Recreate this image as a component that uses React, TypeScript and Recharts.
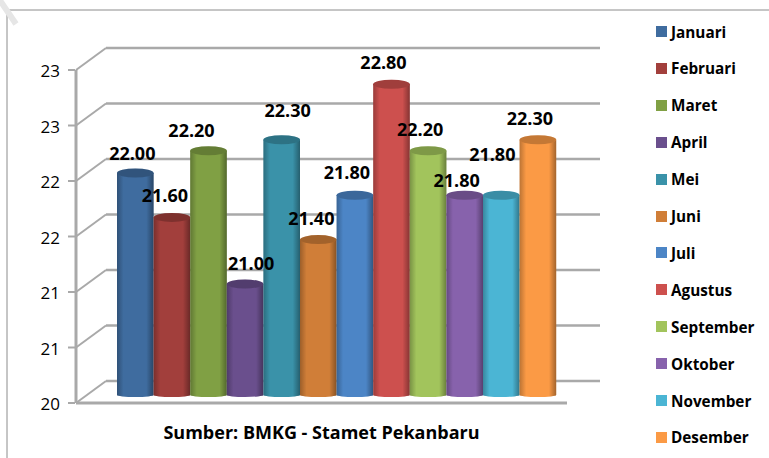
import React from "react";
import { BarChart, Bar, XAxis, YAxis, CartesianGrid, Legend, LabelList, Customized } from "recharts";

const months = ["Januari", "Februari", "Maret", "April", "Mei", "Juni", "Juli", "Agustus", "September", "Oktober", "November", "Desember"];
const values = [22.0, 21.6, 22.2, 21.0, 22.3, 21.4, 21.8, 22.8, 22.2, 21.8, 21.8, 22.3];
const yTicks = [20, 20.5, 21, 21.5, 22, 22.5, 23];
const sourceLabel = "Sumber: BMKG - Stamet Pekanbaru";
const colors = ["#3f6c9f", "#a23f3c", "#80a044", "#6a4f8d", "#3a92a9", "#d07e38", "#4c85c6", "#cd504e", "#a2c45c", "#8762ac", "#4bb5d4", "#fb9a45"];
const labelNudgeX = [-3, -7, -17, 6, 6, -7, -8, -8, -8, -8, -9, -8];
const labelTopY = [153, 195, 130, 263, 110, 218, 172, 62, 129, 180, 154, 118];

const row: Record<string, string | number> = { name: sourceLabel };
months.forEach((m, i) => { row[m] = values[i]; });
const data = [row];

const FONT = "'Open Sans', sans-serif";
const DX = 15;
const DY = -8;
const WALL_X = 30;
const WALL_Y = -22;
const GRID = "#a9a9a9";

function Cylinder(props: any) {
  const { x, y, width, height } = props;
  const i = props.seriesIndex;
  const c = colors[i];
  const id = `cyl-${i}`;
  const X = x + DX;
  const Y = y + DY;
  const ry = 4.5;
  const rx = width / 2;
  return (
    <g>
      <defs>
        <linearGradient id={id} x1="0" x2="1" y1="0" y2="0">
          <stop offset="0" stopColor="#000" stopOpacity={0.25} />
          <stop offset="0.18" stopColor="#000" stopOpacity={0} />
          <stop offset="0.8" stopColor="#000" stopOpacity={0} />
          <stop offset="1" stopColor="#000" stopOpacity={0.35} />
        </linearGradient>
      </defs>
      <path d={`M${X},${Y} L${X},${Y + height} A${rx},2 0 0 0 ${X + width},${Y + height} L${X + width},${Y} Z`} fill={c} />
      <path d={`M${X},${Y} L${X},${Y + height} A${rx},2 0 0 0 ${X + width},${Y + height} L${X + width},${Y} Z`} fill={`url(#${id})`} />
      <ellipse cx={X + rx} cy={Y} rx={rx} ry={ry} fill={c} />
      <ellipse cx={X + rx} cy={Y} rx={rx} ry={ry} fill="#000" fillOpacity={0.22} />
    </g>
  );
}

function GridLine(props: any) {
  const { x1, x2, y1 } = props;
  return (
    <g>
      <line x1={x1} y1={y1} x2={x1 + WALL_X} y2={y1 + WALL_Y} stroke={GRID} strokeWidth={2} />
      <line x1={x1 + WALL_X} y1={y1 + WALL_Y} x2={x2 + WALL_X + 3} y2={y1 + WALL_Y} stroke={GRID} strokeWidth={2.5} />
    </g>
  );
}

function AxisTick(props: any) {
  const { x, y, payload } = props;
  return (
    <g>
      <line x1={x} y1={y} x2={x + 7} y2={y} stroke={GRID} strokeWidth={2} />
      <text x={x - 8} y={y} dy={7} textAnchor="end" fontFamily={FONT} fontSize={17} fill="#000">
        {Math.round(payload.value)}
      </text>
    </g>
  );
}

function SideLegend() {
  return (
    <div>
      {months.map((m, i) => (
        <div key={m} style={{ position: "absolute", left: 656, top: 24.5 + i * 36.9, height: 14, display: "flex", alignItems: "center", whiteSpace: "nowrap" }}>
          <span style={{ width: 11, height: 11, background: colors[i], marginRight: 4, display: "inline-block" }} />
          <span style={{ fontFamily: FONT, fontWeight: 700, fontSize: 15.3, color: "#000" }}>{m}</span>
        </div>
      ))}
    </div>
  );
}

function Frame() {
  return (
    <g>
      <line x1={7} y1={10} x2={769} y2={10} stroke="#8c8c8c" strokeWidth={1} />
      <line x1={7} y1={10} x2={7} y2={458} stroke="#8c8c8c" strokeWidth={1} />
      <line x1={-1} y1={-1} x2={16} y2={24} stroke="#e6e6e6" strokeWidth={6} />
    </g>
  );
}

export default function App() {
  return (
    <div style={{ position: "absolute", left: 0, top: 0, width: 769, height: 458 }}>
      <BarChart
        width={769}
        height={458}
        data={data}
        margin={{ top: 70, right: 202, bottom: 0, left: 0 }}
        barSize={36.6}
        barGap={0}
      >
        <CartesianGrid vertical={false} horizontal={(p: any) => <GridLine key={p.key} {...p} />} />
        <XAxis
          dataKey="name"
          axisLine={{ stroke: GRID, strokeWidth: 3 }}
          tickLine={false}
          tick={{ fontFamily: FONT, fontWeight: 700, fontSize: 18, fill: "#000" }}
          tickMargin={17}
          height={55}
        />
        <YAxis
          domain={[20, 23]}
          ticks={yTicks}
          width={76}
          interval={0}
          axisLine={{ stroke: GRID, strokeWidth: 3 }}
          tickLine={false}
          tick={<AxisTick />}
        />
        <Customized component={Frame} />
        <Legend content={<SideLegend />} wrapperStyle={{ position: "absolute", left: 0, top: 0, width: 0, height: 0 }} />
        {months.map((m, i) => (
          <Bar key={m} dataKey={m} fill={colors[i]} isAnimationActive={false} shape={(p: any) => <Cylinder {...p} seriesIndex={i} />}>
            <LabelList
              dataKey={m}
              content={(p: any) => (
                <text
                  x={p.x + p.width / 2 + DX + labelNudgeX[i]}
                  y={labelTopY[i]}
                  textAnchor="middle"
                  dominantBaseline="central"
                  fontFamily={FONT}
                  fontWeight={700}
                  fontSize={18}
                  fill="#000"
                >
                  {Number(p.value).toFixed(2)}
                </text>
              )}
            />
          </Bar>
        ))}
      </BarChart>
    </div>
  );
}
